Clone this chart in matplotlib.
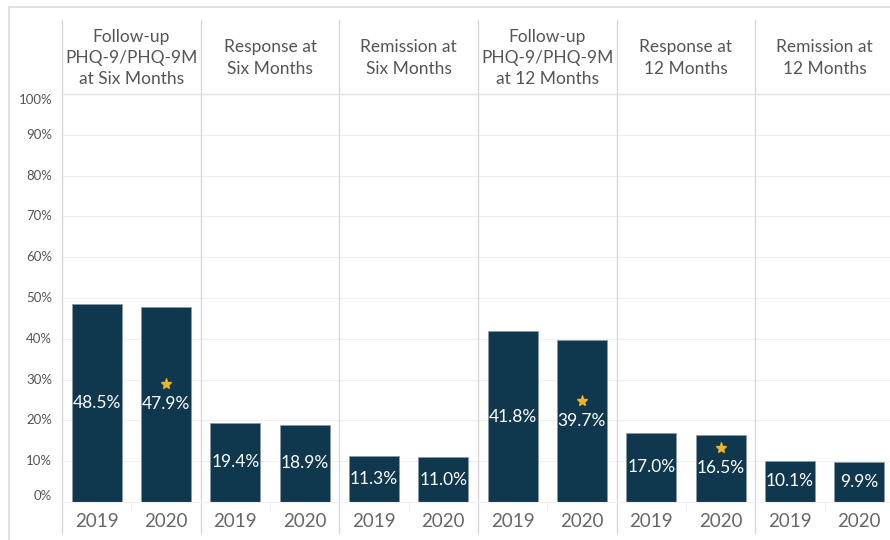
import numpy as np
import matplotlib
matplotlib.use("Agg")
import matplotlib.pyplot as plt
import matplotlib.transforms as mtransforms

plt.rcParams['font.family'] = ['Lato', 'DejaVu Sans']

# data
panels = ["Follow-up\nPHQ-9/PHQ-9M\nat Six Months", "Response at\nSix Months",
          "Remission at\nSix Months", "Follow-up\nPHQ-9/PHQ-9M\nat 12 Months",
          "Response at\n12 Months", "Remission at\n12 Months"]
years = ["2019", "2020"]
rate_2019 = [48.5, 19.4, 11.3, 41.8, 17.0, 10.1]
rate_2020 = [47.9, 18.9, 11.0, 39.7, 16.5, 9.9]
star_2020 = [True, False, False, True, True, False]
y_ticks = [0, 10, 20, 30, 40, 50, 60, 70, 80, 90, 100]

bar_color = "#0f374d"
line_color = "#d8d8d8"
text_color = "#555555"

W, H = 890, 540
fig = plt.figure(figsize=(W / 100, H / 100), dpi=100)

# axes in pixel coordinates (top-origin): x 62..894, y 94..502
left, right, top, bottom = 62, 894, 94, 502
ax = fig.add_axes([left / W, (H - bottom) / H, (right - left) / W, (bottom - top) / H])

n = len(panels)
x19 = np.arange(n) * 2
x20 = x19 + 1
ax.bar(x19, rate_2019, width=0.72, color=bar_color, edgecolor="#8a9aa6", linewidth=0.6, zorder=3)
ax.bar(x20, rate_2020, width=0.72, color=bar_color, edgecolor="#8a9aa6", linewidth=0.6, zorder=3)

for xs, vals in [(x19, rate_2019), (x20, rate_2020)]:
    for x, v in zip(xs, vals):
        ax.text(x, v / 2, f"{v:.1f}%", ha="center", va="center", color="white",
                fontsize=12.5, zorder=4)

# stars sit about 20 px above the value label
star_shift = ax.transData + mtransforms.ScaledTranslation(0, 0.20, fig.dpi_scale_trans)
for x, v, s in zip(x20, rate_2020, star_2020):
    if s:
        ax.plot([x], [v / 2], linestyle="none", marker="*", markersize=8,
                color="#f0b323", zorder=5, transform=star_shift)

ax.set_xlim(-0.5, 2 * n - 0.5)
ax.set_ylim(0, 100)

# gridlines
for t in y_ticks[1:-1]:
    ax.axhline(t, color="#efefef", linewidth=0.8, zorder=1)

ax.set_yticks(y_ticks)
ax.set_yticklabels([])
for t in y_ticks:
    va = "center"
    if t == 0:
        va = "bottom"
    elif t == 100:
        va = "top"
    ax.text(-0.012, t, f"{t}%", transform=ax.get_yaxis_transform(), ha="right", va=va,
            fontsize=9.5, color=text_color)

ax.set_xticks(np.arange(2 * n))
ax.set_xticklabels(years * n, fontsize=13.5, color="#666666")
ax.tick_params(axis="x", length=0, pad=8)
ax.tick_params(axis="y", length=0)
for sp in ax.spines.values():
    sp.set_visible(False)

# panel dividers and header
blend = mtransforms.blended_transform_factory(ax.transData, fig.transFigure)
y_top_div = (H - 20) / H
y_bot_div = (H - 533) / H
for i in range(n):
    xd = 2 * i - 0.5
    ax.plot([xd, xd], [y_bot_div, y_top_div], color=line_color, linewidth=1,
            transform=blend, clip_on=False)
    ax.text(2 * i + 0.5, (H - 58) / H, panels[i], transform=blend, ha="center", va="center",
            fontsize=12.5, color=text_color, linespacing=1.4)
    # small separator between year labels
    ax.plot([2 * i + 0.5, 2 * i + 0.5], [(H - 510) / H, (H - 502) / H], color="#eeeeee",
            linewidth=0.8, transform=blend, clip_on=False)

# header separator and baseline
fig.add_artist(plt.Line2D([left / W, 1], [(H - top) / H] * 2, color="#e4e4e4", linewidth=1))
fig.add_artist(plt.Line2D([left / W, 1], [(H - bottom) / H] * 2, color="#eeeeee", linewidth=0.8))

# outer frame
fig.add_artist(plt.Line2D([9 / W, 1], [(H - 7) / H] * 2, color="#dcdcdc", linewidth=1.2))
fig.add_artist(plt.Line2D([9 / W, 9 / W], [(H - 7) / H, 0], color="#dcdcdc", linewidth=1.2))

fig.savefig("out.png", dpi=100)
